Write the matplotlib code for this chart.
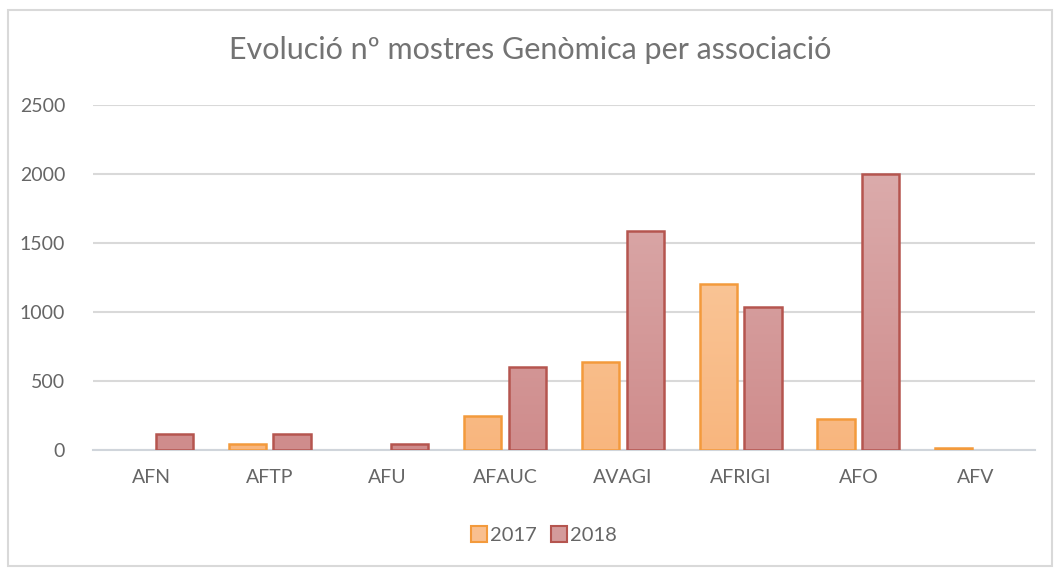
import matplotlib
matplotlib.use("Agg")
import matplotlib.pyplot as plt
from matplotlib.patches import Rectangle, Patch
from matplotlib.colors import LinearSegmentedColormap
import numpy as np

categories = ["AFN", "AFTP", "AFU", "AFAUC", "AVAGI", "AFRIGI", "AFO", "AFV"]
v2017 = [0, 40, 0, 245, 640, 1205, 225, 15]
v2018 = [115, 115, 40, 600, 1585, 1035, 2000, 0]
series_names = ["2017", "2018"]
yticks = [0, 500, 1000, 1500, 2000, 2500]
title = "Evolució nº mostres Genòmica per associació"

plt.rcParams['font.family'] = ['Lato', 'DejaVu Sans']

W, H = 1062, 568
fig = plt.figure(figsize=(W/100, H/100), dpi=100)
ax = fig.add_axes([93/W, 1-450/H, (1035-93)/W, (450-105)/H])

x = np.arange(len(categories))
w = 0.315
off = 0.19
fill17, edge17 = "#F9BF8F", "#F39A3C"
fill18, edge18 = "#D49B9B", "#B5554F"
grad17 = LinearSegmentedColormap.from_list("g17", ["#F8B67E", "#FBCDA4"])
grad18 = LinearSegmentedColormap.from_list("g18", ["#CF8C8C", "#DBABAB"])

b1 = ax.bar(x-off, v2017, w, color=fill17, edgecolor=edge17, linewidth=1.8, zorder=3)
b2 = ax.bar(x+off, v2018, w, color=fill18, edgecolor=edge18, linewidth=1.8, zorder=3)

ax.set_xlim(-0.5, len(categories)-0.5)
ax.set_ylim(0, 2500)

grad = np.linspace(0, 1, 256).reshape(-1, 1)
for bars, cmap in ((b1, grad17), (b2, grad18)):
    for b in bars:
        if b.get_height() <= 0:
            b.set_visible(False)
            continue
        bx, by = b.get_x(), b.get_y()
        bw, bh = b.get_width(), b.get_height()
        im = ax.imshow(grad, cmap=cmap, origin='lower', aspect='auto',
                       extent=(bx, bx+bw, 0, 2000), zorder=3.5)
        im.set_clip_path(Rectangle((bx, by), bw, bh, transform=ax.transData))
        b.set_facecolor('none')
        b.set_zorder(4)

ax.set_xlim(-0.5, len(categories)-0.5)
ax.set_ylim(0, 2500)
ax.set_aspect('auto')
ax.set_yticks(yticks)
ax.set_xticks(x)
ax.set_xticklabels(categories)
ax.grid(axis='y', color='#D9D9D9', linewidth=1.5, zorder=0)
ax.set_axisbelow(True)
for s in ['top', 'right', 'left']:
    ax.spines[s].set_visible(False)
ax.spines['bottom'].set_color('#D0D5DB')
ax.spines['bottom'].set_linewidth(1.5)
ax.tick_params(axis='both', length=0, colors='#666666', labelsize=14)
ax.tick_params(axis='y', pad=20)
ax.tick_params(axis='x', pad=14)

fig.text(530/W, 1-50/H, title, ha='center', va='center', fontsize=22,
         color='#737373')

handles = [Patch(facecolor=fill17, edgecolor=edge17, linewidth=1.5),
           Patch(facecolor=fill18, edgecolor=edge18, linewidth=1.5)]
fig.legend(handles, series_names, loc='center', bbox_to_anchor=(544/W, 1-535/H), ncol=2,
           frameon=False, fontsize=14.5, handlelength=0.8, handleheight=0.8,
           handletextpad=0.15, columnspacing=0.7, labelcolor='#666666')

border = Rectangle((8/W, 1-566/H), (1052-8)/W, (566-10)/H, transform=fig.transFigure,
                   fill=False, edgecolor='#D9D9D9', linewidth=1.5)
fig.patches.append(border)

fig.savefig("out.png", dpi=100)
